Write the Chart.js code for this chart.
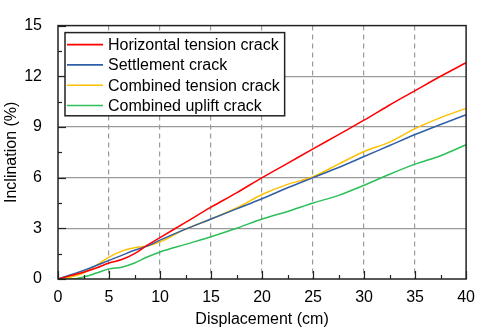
<!DOCTYPE html>
<html>
<head>
<meta charset="utf-8">
<script src="https://cdn.jsdelivr.net/npm/chart.js@4"></script>
<style>
  html, body { margin: 0; padding: 0; background: #fff; }
  canvas { display: block; }
</style>
</head>
<body>
<canvas id="chart" width="484" height="329"></canvas>
<script>
// displacement (cm)
const displacement = [0, 1.25, 2.5, 3.75, 5, 6.25, 7.5, 8.75, 10, 12.5, 15, 17.5, 20, 22.5, 25, 27.5, 30, 32.5, 35, 37.5, 40];

// inclination (%)
const horizontalTension = [0, 0.2, 0.4, 0.65, 0.95, 1.15, 1.5, 2.0, 2.45, 3.35, 4.25, 5.1, 6.0, 6.85, 7.7, 8.55, 9.4, 10.3, 11.15, 12.0, 12.8];
const settlement = [0, 0.25, 0.5, 0.8, 1.1, 1.4, 1.7, 1.95, 2.3, 2.95, 3.55, 4.15, 4.75, 5.4, 6.0, 6.6, 7.25, 7.9, 8.55, 9.15, 9.72];
const combinedTension = [0, 0.12, 0.35, 0.8, 1.3, 1.65, 1.85, 1.95, 2.2, 2.95, 3.55, 4.2, 5.0, 5.6, 6.05, 6.8, 7.55, 8.1, 8.9, 9.55, 10.1];
const combinedUplift = [0, 0, 0.12, 0.35, 0.6, 0.7, 0.95, 1.3, 1.6, 2.05, 2.5, 3.0, 3.55, 4.0, 4.5, 4.95, 5.55, 6.2, 6.8, 7.3, 7.95];

const seriesLabels = ['Horizontal tension crack', 'Settlement crack', 'Combined tension crack', 'Combined uplift crack'];
const xTicks = [0, 5, 10, 15, 20, 25, 30, 35, 40];
const yTicks = [0, 3, 6, 9, 12, 15];

const colors = ['#ff0000', '#2f5fa6', '#ffc000', '#2cbf5a'];
const FONT = '"Liberation Sans", Arial, sans-serif';

Chart.defaults.font.family = FONT;
Chart.defaults.font.size = 16;
Chart.defaults.color = '#000';

const toPoints = (ys) => displacement.map((x, i) => ({ x: x, y: ys[i] }));

// frame, inward ticks and boxed legend
const decorations = {
  id: 'decorations',
  afterDatasetsDraw(chart) {
    const { ctx, chartArea: a, scales } = chart;
    const xs = scales.x, ys = scales.y;
    ctx.save();
    ctx.strokeStyle = '#222';
    ctx.lineWidth = 1.2;
    // x ticks
    for (let v = 0; v <= 40; v += 2.5) {
      const px = Math.round(xs.getPixelForValue(v)) + 0.5;
      const len = (v % 5 === 0) ? 8 : 4;
      ctx.beginPath();
      ctx.moveTo(px, a.bottom);
      ctx.lineTo(px, a.bottom - len);
      ctx.stroke();
    }
    // y ticks
    for (let v = 0; v <= 15; v += 1.5) {
      const py = Math.round(ys.getPixelForValue(v)) + 0.5;
      const len = (Math.abs(v % 3) < 1e-6) ? 8 : 4;
      ctx.beginPath();
      ctx.moveTo(a.left, py);
      ctx.lineTo(a.left + len, py);
      ctx.stroke();
    }
    // frame
    ctx.lineWidth = 1.5;
    ctx.strokeRect(a.left, a.top, a.right - a.left, a.bottom - a.top);

    // legend
    ctx.font = '16px ' + FONT;
    const bx = a.left + 7, by = a.top + 7;
    const textX = bx + 43;
    let maxW = 0;
    chart.data.datasets.forEach(ds => { maxW = Math.max(maxW, ctx.measureText(ds.label).width); });
    const bw = textX - bx + maxW + 5;
    const rowH = 20.3;
    const bh = rowH * 4 + 2;
    ctx.fillStyle = '#fff';
    ctx.fillRect(bx, by, bw, bh);
    ctx.lineWidth = 1.5;
    ctx.strokeStyle = '#222';
    ctx.strokeRect(bx, by, bw, bh);
    ctx.textBaseline = 'middle';
    ctx.textAlign = 'left';
    chart.data.datasets.forEach((ds, i) => {
      const cy = by + 12 + i * rowH;
      ctx.strokeStyle = ds.borderColor;
      ctx.lineWidth = 1.6;
      ctx.beginPath();
      ctx.moveTo(bx + 2, cy);
      ctx.lineTo(bx + 38, cy);
      ctx.stroke();
      ctx.fillStyle = '#000';
      ctx.fillText(ds.label, textX, cy + 1);
    });
    ctx.restore();
  }
};

const makeDataset = (label, ys, color) => ({
  label: label,
  data: toPoints(ys),
  borderColor: color,
  backgroundColor: color,
  borderWidth: 1.5,
  pointRadius: 0,
  cubicInterpolationMode: 'monotone',
  fill: false
});

new Chart(document.getElementById('chart').getContext('2d'), {
  type: 'line',
  data: {
    datasets: [
      makeDataset(seriesLabels[0], horizontalTension, colors[0]),
      makeDataset(seriesLabels[1], settlement, colors[1]),
      makeDataset(seriesLabels[2], combinedTension, colors[2]),
      makeDataset(seriesLabels[3], combinedUplift, colors[3])
    ]
  },
  options: {
    responsive: false,
    animation: false,
    layout: { padding: { top: 9, right: 10, left: 0, bottom: 0 } },
    plugins: {
      legend: { display: false },
      tooltip: { enabled: false }
    },
    scales: {
      x: {
        type: 'linear',
        min: 0,
        max: 40,
        afterBuildTicks: (s) => { s.ticks = xTicks.map(v => ({ value: v })); },
        afterFit: (s) => { s.height = 50; },
        ticks: { padding: 9, color: '#000', font: { size: 16 } },
        grid: {
          drawTicks: false,
          color: (c) => (c.tick && (c.tick.value === 0 || c.tick.value === 40)) ? 'rgba(0,0,0,0)' : '#9a9a9a',
          lineWidth: 1.2
        },
        border: { display: false, dash: [5, 4] },
        title: { display: true, text: 'Displacement (cm)', padding: 0, font: { size: 16 } }
      },
      y: {
        min: 0,
        max: 15,
        afterBuildTicks: (s) => { s.ticks = yTicks.map(v => ({ value: v })); },
        afterFit: (s) => { s.width = 58; },
        ticks: { padding: 16, color: '#000', font: { size: 16 } },
        grid: {
          drawTicks: false,
          color: (c) => (c.tick && (c.tick.value === 0 || c.tick.value === 15)) ? 'rgba(0,0,0,0)' : '#9a9a9a',
          lineWidth: 1.2
        },
        border: { display: false },
        title: { display: true, text: 'Inclination (%)', padding: { top: 2, bottom: 0 }, font: { size: 16 } }
      }
    }
  },
  plugins: [decorations]
});
</script>
</body>
</html>
